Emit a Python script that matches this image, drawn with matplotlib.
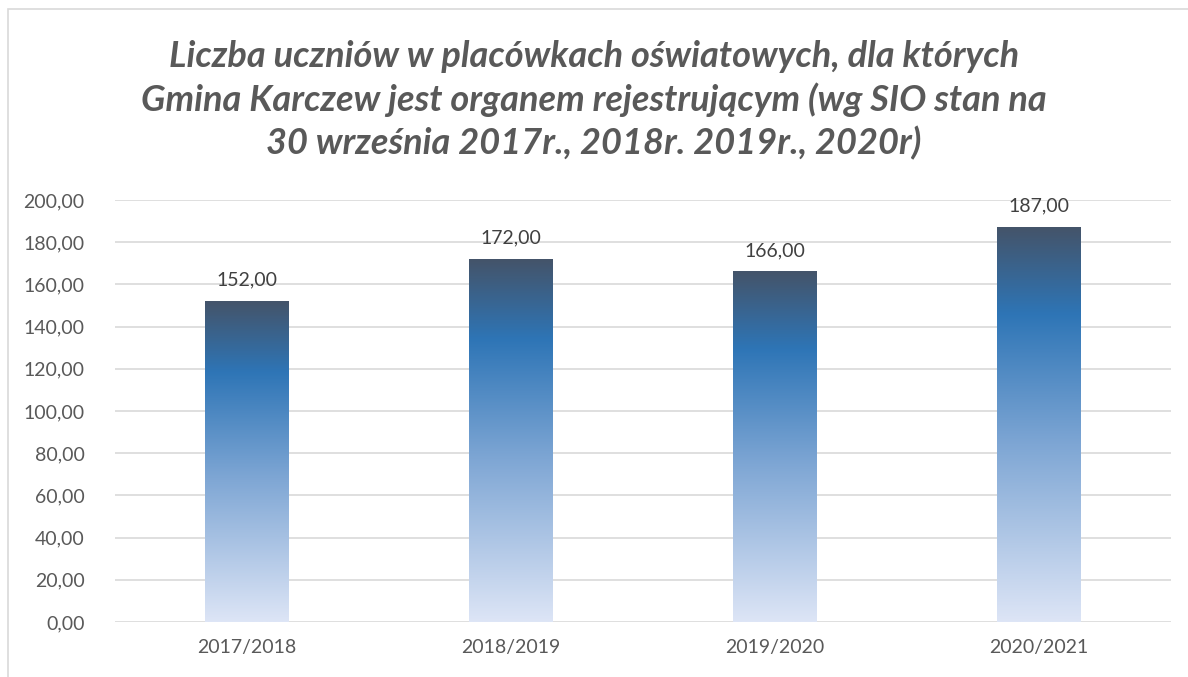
import matplotlib.pyplot as plt
import numpy as np
from matplotlib.colors import LinearSegmentedColormap
from matplotlib.patches import Rectangle

years = ['2017/2018', '2018/2019', '2019/2020', '2020/2021']
students = [152, 172, 166, 187]
y_ticks = [0, 20, 40, 60, 80, 100, 120, 140, 160, 180, 200]

plt.rcParams['font.family'] = ['Lato', 'DejaVu Sans']

# bottom light -> blue -> dark slate at top
grad = LinearSegmentedColormap.from_list(
    'bar', [(0.0, '#DDE5F6'), (0.45, '#7EA6D4'), (0.78, '#2E75B6'), (1.0, '#44546A')])

fig = plt.figure(figsize=(11.88, 6.77), dpi=100)
fig.patches.append(Rectangle((8 / 1188, -0.1), 1.2, (677 - 9) / 677 + 0.1,
                             transform=fig.transFigure, fill=False,
                             edgecolor='#D9D9D9', linewidth=1.2))

ax = fig.add_axes([115 / 1188, 55 / 677, (1171 - 115) / 1188, (622 - 200) / 677])
x = np.arange(len(years))
w = 0.315
g = np.linspace(0, 1, 256).reshape(-1, 1)
for xi, v in zip(x, students):
    ax.imshow(g, cmap=grad, origin='lower', aspect='auto',
              extent=(xi - w / 2, xi + w / 2, 0, v), zorder=2)
    ax.text(xi, v + 6, f'{v:.2f}'.replace('.', ','), ha='center', va='bottom',
            fontsize=14, color='#404040')

ax.set_xlim(-0.5, len(years) - 0.5)
ax.set_ylim(0, 200)
ax.set_yticks(y_ticks)
ax.set_yticklabels([f'{t:.2f}'.replace('.', ',') for t in y_ticks])
ax.set_xticks(x)
ax.set_xticklabels(years)
ax.tick_params(length=0, labelsize=14, labelcolor='#595959')
ax.tick_params(axis='y', pad=22)
ax.tick_params(axis='x', pad=12)
ax.grid(axis='y', color='#D9D9D9', linewidth=1.2, zorder=0)
for s in ax.spines.values():
    s.set_visible(False)
ax.set_axisbelow(True)

fig.text(0.5, 1 - 100 / 677,
         'Liczba uczniów w placówkach oświatowych, dla których\n'
         'Gmina Karczew jest organem rejestrującym (wg SIO stan na\n'
         '30 września 2017r., 2018r. 2019r., 2020r)',
         ha='center', va='center', fontsize=26, fontweight='bold',
         fontstyle='italic', color='#595959', linespacing=1.32)

fig.savefig('out.png', dpi=100)
